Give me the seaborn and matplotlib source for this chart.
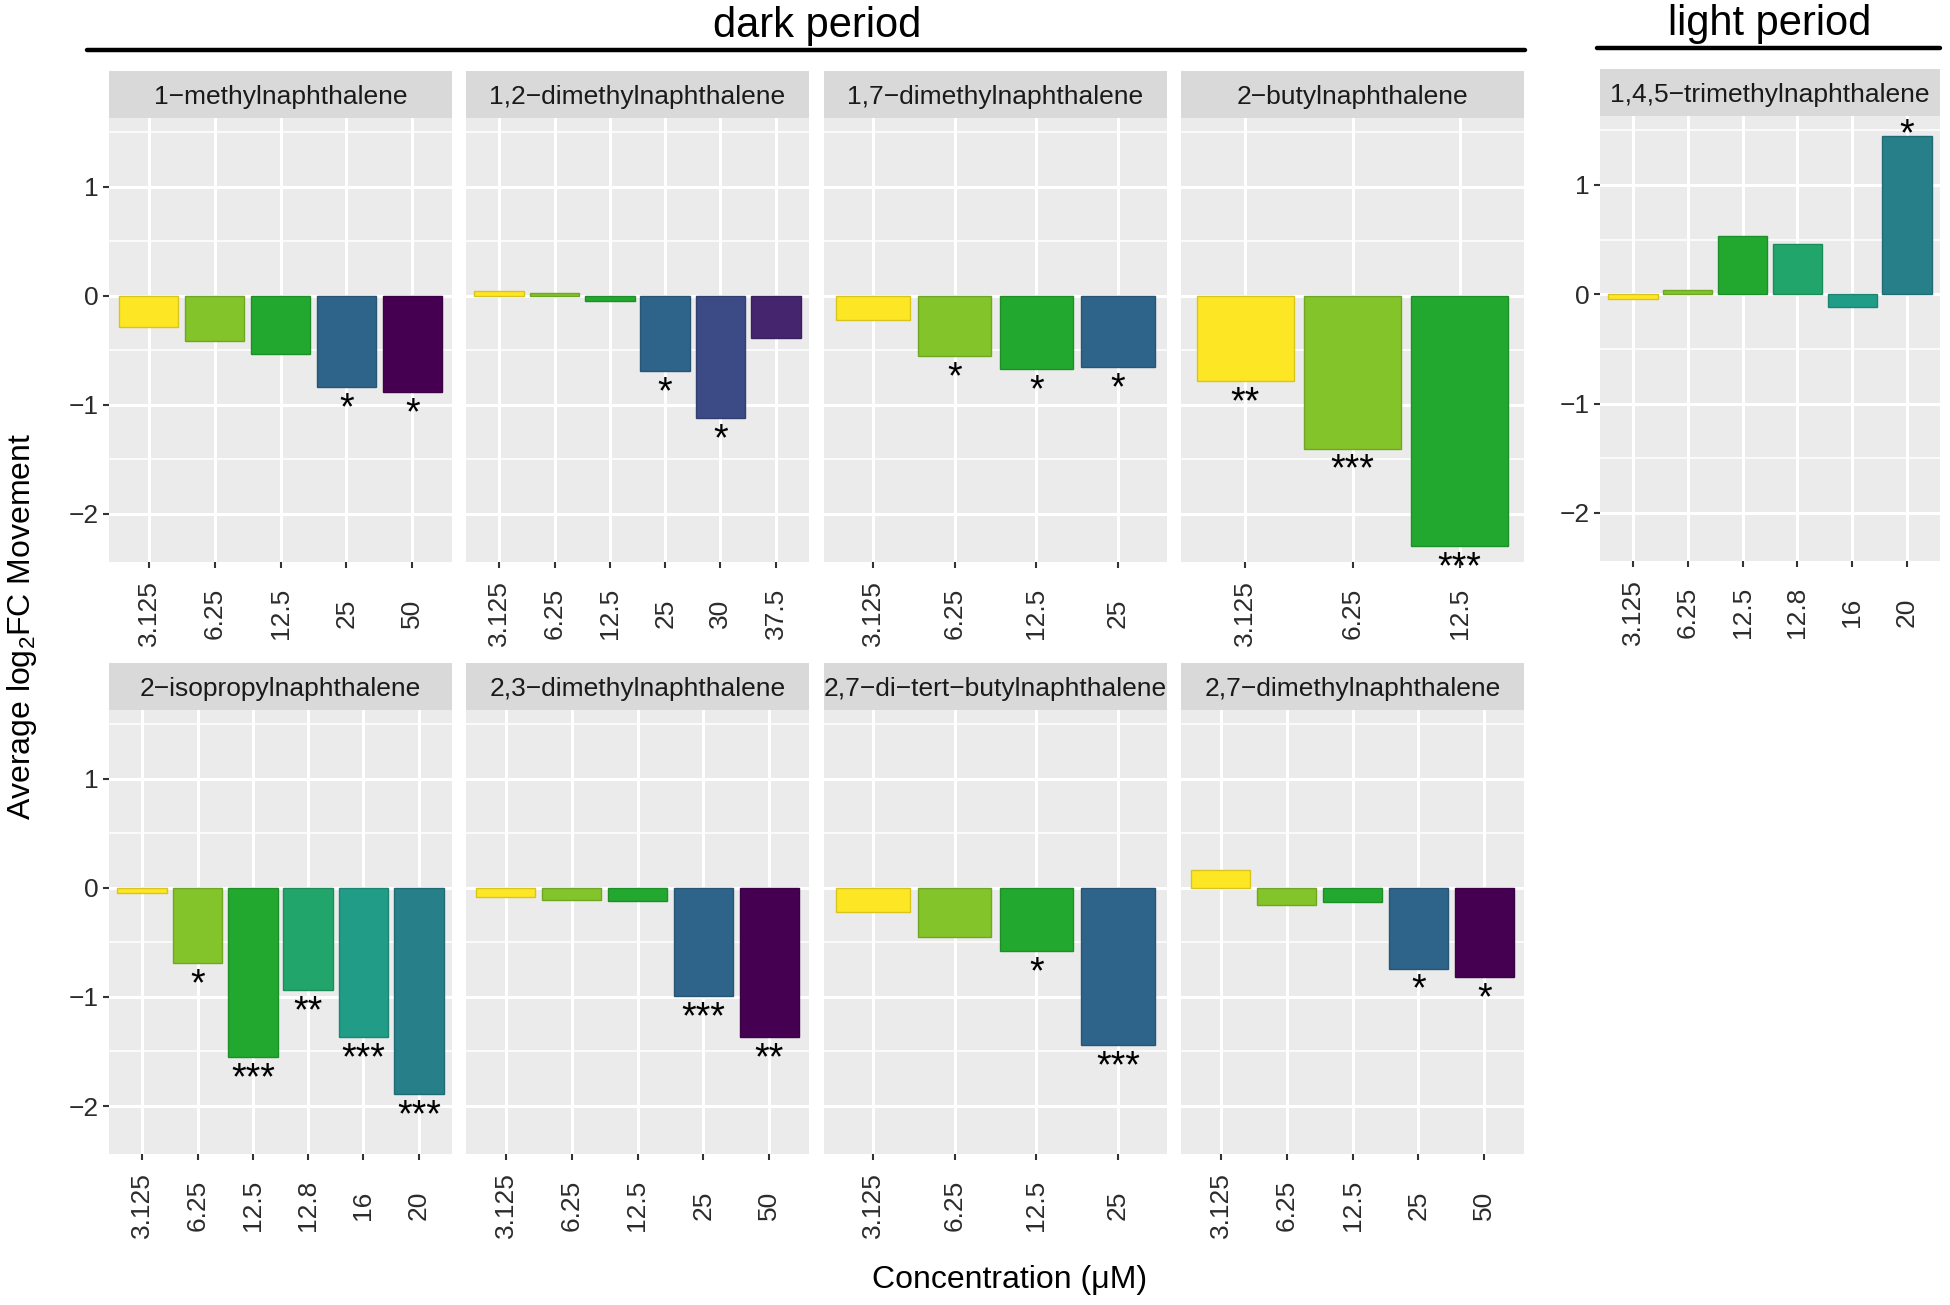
import matplotlib.pyplot as plt
import matplotlib.colors as mcolors
import seaborn as sns
from matplotlib.lines import Line2D
from matplotlib.ticker import FixedLocator

# ---- data ----
mn1_conc = ["3.125", "6.25", "12.5", "25", "50"]
mn1_val = [-0.29, -0.41, -0.53, -0.84, -0.88]
mn1_sig = ["", "", "", "*", "*"]

dmn12_conc = ["3.125", "6.25", "12.5", "25", "30", "37.5"]
dmn12_val = [0.04, 0.03, -0.05, -0.69, -1.12, -0.39]
dmn12_sig = ["", "", "", "*", "*", ""]

dmn17_conc = ["3.125", "6.25", "12.5", "25"]
dmn17_val = [-0.22, -0.55, -0.67, -0.65]
dmn17_sig = ["", "*", "*", "*"]

bn2_conc = ["3.125", "6.25", "12.5"]
bn2_val = [-0.78, -1.40, -2.29]
bn2_sig = ["**", "***", "***"]

ipn2_conc = ["3.125", "6.25", "12.5", "12.8", "16", "20"]
ipn2_val = [-0.05, -0.69, -1.55, -0.94, -1.37, -1.89]
ipn2_sig = ["", "*", "***", "**", "***", "***"]

dmn23_conc = ["3.125", "6.25", "12.5", "25", "50"]
dmn23_val = [-0.08, -0.11, -0.12, -0.99, -1.37]
dmn23_sig = ["", "", "", "***", "**"]

dtbn27_conc = ["3.125", "6.25", "12.5", "25"]
dtbn27_val = [-0.22, -0.45, -0.58, -1.44]
dtbn27_sig = ["", "", "*", "***"]

dmn27_conc = ["3.125", "6.25", "12.5", "25", "50"]
dmn27_val = [0.16, -0.16, -0.13, -0.74, -0.82]
dmn27_sig = ["", "", "", "*", "*"]

tmn145_conc = ["3.125", "6.25", "12.5", "12.8", "16", "20"]
tmn145_val = [-0.04, 0.04, 0.53, 0.46, -0.12, 1.45]
tmn145_sig = ["", "", "", "", "", "*"]

dark_panels = [
    ("1\u2212methylnaphthalene", mn1_conc, mn1_val, mn1_sig),
    ("1,2\u2212dimethylnaphthalene", dmn12_conc, dmn12_val, dmn12_sig),
    ("1,7\u2212dimethylnaphthalene", dmn17_conc, dmn17_val, dmn17_sig),
    ("2\u2212butylnaphthalene", bn2_conc, bn2_val, bn2_sig),
    ("2\u2212isopropylnaphthalene", ipn2_conc, ipn2_val, ipn2_sig),
    ("2,3\u2212dimethylnaphthalene", dmn23_conc, dmn23_val, dmn23_sig),
    ("2,7\u2212di\u2212tert\u2212butylnaphthalene", dtbn27_conc, dtbn27_val, dtbn27_sig),
    ("2,7\u2212dimethylnaphthalene", dmn27_conc, dmn27_val, dmn27_sig),
]
light_panel = ("1,4,5\u2212trimethylnaphthalene", tmn145_conc, tmn145_val, tmn145_sig)

conc_colors = {
    "3.125": "#FDE725",
    "6.25": "#83C42A",
    "12.5": "#23A82F",
    "12.8": "#22A56B",
    "16": "#219C86",
    "20": "#277F89",
    "25": "#2E6489",
    "30": "#3C4A85",
    "37.5": "#45266E",
    "50": "#450052",
}

sns.set_theme(style="darkgrid")
plt.rcParams["font.family"] = ["Liberation Sans", "DejaVu Sans"]
plt.rcParams["mathtext.fontset"] = "custom"
plt.rcParams["mathtext.rm"] = "Liberation Sans"
plt.rcParams["mathtext.it"] = "Liberation Sans:italic"

W, H = 1950, 1305
fig = plt.figure(figsize=(W / 100, H / 100), dpi=100)
fig.patch.set_facecolor("white")


def box(x0, y0, x1, y1):
    return [x0 / W, 1 - y1 / H, (x1 - x0) / W, (y1 - y0) / H]


YLIM = (-2.44, 1.63)


def draw_panel(name, concs, vals, sigs, x0, x1, strip_top, strip_bot, panel_bot, show_y):
    sax = fig.add_axes(box(x0, strip_top, x1, strip_bot))
    sax.set_facecolor("#D9D9D9")
    sax.set_xticks([])
    sax.set_yticks([])
    sax.grid(False)
    for s in sax.spines.values():
        s.set_visible(False)
    sax.text(0.5, 0.45, name, ha="center", va="center", fontsize=19,
             color="#1A1A1A", transform=sax.transAxes)

    ax = fig.add_axes(box(x0, strip_bot, x1, panel_bot))
    ax.set_facecolor("#EBEBEB")
    sns.barplot(x=concs, y=vals, hue=concs, order=concs, hue_order=concs,
                palette=[conc_colors[c] for c in concs], width=0.9,
                saturation=1, legend=False, errorbar=None, ax=ax)
    for p in ax.patches:
        fc = mcolors.to_rgb(p.get_facecolor())
        p.set_edgecolor(tuple(v * 0.85 for v in fc))
        p.set_linewidth(1.0)
    ax.set_xlim(-0.6, len(concs) - 0.4)
    ax.set_ylim(*YLIM)
    ax.yaxis.set_major_locator(FixedLocator([-2, -1, 0, 1]))
    ax.yaxis.set_minor_locator(FixedLocator([-1.5, -0.5, 0.5, 1.5]))
    ax.grid(which="major", color="white", linewidth=2.2)
    ax.grid(which="minor", axis="y", color="white", linewidth=1.1)
    ax.set_axisbelow(True)
    for s in ax.spines.values():
        s.set_visible(False)
    ax.set_xlabel("")
    ax.set_ylabel("")
    ax.tick_params(axis="both", which="major", length=4, width=1.5,
                   color="#333333", labelsize=19, labelcolor="#2B2B2B",
                   bottom=True, left=True)
    ax.tick_params(axis="y", which="minor", length=0)
    ax.tick_params(axis="x", pad=33)
    plt.setp(ax.get_xticklabels(), rotation=90, va="center", ha="center")
    if not show_y:
        ax.tick_params(axis="y", which="major", length=0, labelleft=False)

    for i, (v, s) in enumerate(zip(vals, sigs)):
        if not s:
            continue
        if v < 0:
            ax.annotate(s, (i, v), xytext=(0, -3), textcoords="offset points",
                        ha="center", va="top", fontsize=27, color="black")
        else:
            ax.annotate(s, (i, v), xytext=(0, -7), textcoords="offset points",
                        ha="center", va="baseline", fontsize=27, color="black")
    return ax


col_left = [109, 466, 824, 1181]
col_w = 343
rows = [(71, 118, 562), (663, 710, 1154)]

for k, (name, concs, vals, sigs) in enumerate(dark_panels):
    r, c = divmod(k, 4)
    st, sb, pb = rows[r]
    draw_panel(name, concs, vals, sigs, col_left[c], col_left[c] + col_w,
               st, sb, pb, show_y=(c == 0))

name, concs, vals, sigs = light_panel
draw_panel(name, concs, vals, sigs, 1600, 1940, 69, 116, 561, show_y=True)

# period headers
fig.text(817 / W, 1 - 26 / H, "dark period", ha="center", va="center",
         fontsize=30, color="black")
fig.add_artist(Line2D([87 / W, 1525 / W], [1 - 50 / H, 1 - 50 / H],
                      color="black", linewidth=3.2, transform=fig.transFigure))
fig.text(1770 / W, 1 - 24 / H, "light period", ha="center", va="center",
         fontsize=30, color="black")
fig.add_artist(Line2D([1597 / W, 1940 / W], [1 - 48 / H, 1 - 48 / H],
                      color="black", linewidth=3.2, transform=fig.transFigure))

fig.text(22 / W, 1 - 626 / H, "Average log$_{\\mathregular{2}}$FC Movement",
         rotation=90, ha="center", va="center", fontsize=23, color="black")
fig.text(1010 / W, 1 - 1280 / H, "Concentration (\u03bcM)", ha="center",
         va="center", fontsize=23, color="black")

fig.savefig("out.png", dpi=100)
